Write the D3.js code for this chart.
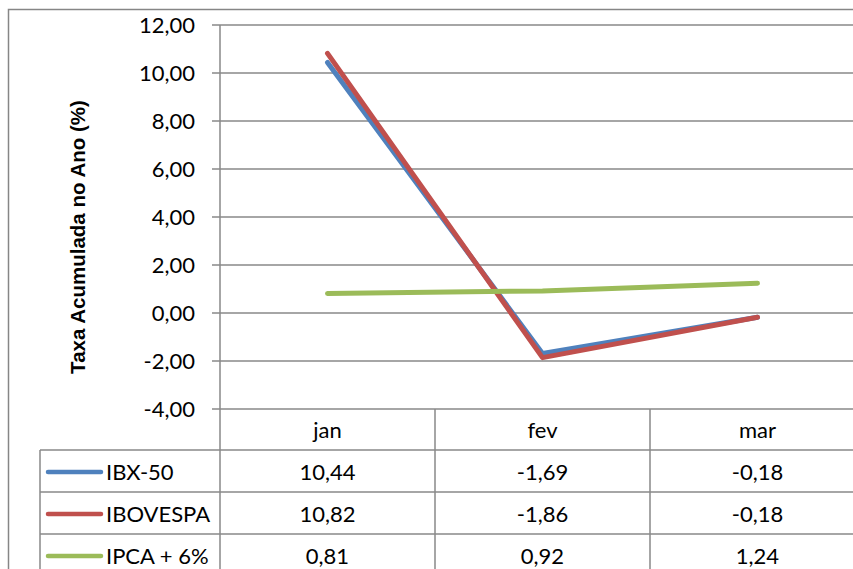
<!DOCTYPE html>
<html>
<head>
<meta charset="utf-8">
<script src="https://cdn.jsdelivr.net/npm/d3@7"></script>
<style>
body { margin: 0; background: #fff; }
text { font-family: Lato, "Open Sans", sans-serif; fill: #000; }
</style>
</head>
<body>
<div class="chart"></div>
<script>
const months = ["jan", "fev", "mar"];
const seriesNames = ["IBX-50", "IBOVESPA", "IPCA + 6%"];
const ibx50 = [10.44, -1.69, -0.18];
const ibovespa = [10.82, -1.86, -0.18];
const ipca6 = [0.81, 0.92, 1.24];
const yTicks = [-4, -2, 0, 2, 4, 6, 8, 10, 12];
const colors = ["#4F81BD", "#C0504D", "#9BBB59"];

const series = seriesNames.map((name, i) => ({
    name: name,
    values: [ibx50, ibovespa, ipca6][i],
    color: colors[i]
}));

const width = 853, height = 569;
const fs = "22px";
const fmt = v => v.toFixed(2).replace(".", ",");

const svg = d3.select(".chart").append("svg")
    .attr("width", width)
    .attr("height", height);

// outer chart border (cropped on right and bottom)
svg.append("path")
    .attr("d", "M8.5," + height + "V9.5H" + width)
    .attr("fill", "none")
    .attr("stroke", "#868686")
    .attr("stroke-width", 1.5);

const xScale = d3.scaleBand()
    .domain(months)
    .range([220, 865]);

const yScale = d3.scaleLinear()
    .domain([-4, 12])
    .range([409, 25]);

// gridlines
svg.append("g")
    .selectAll("line")
    .data(yTicks)
    .join("line")
    .attr("x1", 212)
    .attr("x2", width)
    .attr("y1", d => yScale(d))
    .attr("y2", d => yScale(d))
    .attr("stroke", "#888")
    .attr("stroke-width", 1.5);

const yAxis = d3.axisLeft(yScale)
    .tickValues(yTicks)
    .tickFormat(fmt)
    .tickSize(0)
    .tickPadding(25);

svg.append("g")
    .attr("class", "y-axis")
    .attr("transform", "translate(220,0)")
    .call(yAxis)
    .call(g => g.select(".domain").remove())
    .call(g => g.selectAll("text")
        .attr("font-family", "Lato, sans-serif")
        .attr("font-size", fs)
        .attr("fill", "#000"));

// axis title
svg.append("text")
    .attr("transform", "translate(78,237) rotate(-90)")
    .attr("text-anchor", "middle")
    .attr("dy", "0.35em")
    .style("font-family", "'Liberation Sans', Arial, sans-serif")
    .style("font-weight", "bold")
    .style("font-size", "20.5px")
    .text("Taxa Acumulada no Ano (%)");

// data table
const rowTop = 409, headerH = 41, rowH = 42;
const rowY = i => rowTop + headerH + i * rowH;
const table = svg.append("g").attr("stroke", "#888").attr("stroke-width", 1.5);

// vertical lines
[220, 435, 650].forEach((x, i) => {
    table.append("line")
        .attr("x1", x).attr("x2", x)
        .attr("y1", i === 0 ? 25 : rowTop).attr("y2", height);
});
table.append("line")
    .attr("x1", 40).attr("x2", 40)
    .attr("y1", rowY(0)).attr("y2", height);
// horizontal lines
[0, 1, 2].forEach(i => {
    table.append("line")
        .attr("x1", 40).attr("x2", width)
        .attr("y1", rowY(i)).attr("y2", rowY(i));
});

// header
svg.append("g")
    .selectAll("text")
    .data(months)
    .join("text")
    .attr("x", d => xScale(d) + xScale.bandwidth() / 2)
    .attr("y", rowTop + headerH / 2 + 1)
    .attr("dy", "0.35em")
    .attr("text-anchor", "middle")
    .attr("font-size", fs)
    .text(d => d);

// rows
const rows = svg.append("g")
    .selectAll("g")
    .data(series)
    .join("g")
    .attr("transform", (d, i) => "translate(0," + (rowY(i) + rowH / 2 + 1) + ")");

rows.append("line")
    .attr("x1", 48).attr("x2", 101)
    .attr("stroke", d => d.color)
    .attr("stroke-width", 4.5)
    .attr("stroke-linecap", "round");

rows.append("text")
    .attr("x", 106)
    .attr("dy", "0.35em")
    .attr("font-size", fs)
    .text(d => d.name);

rows.selectAll(".val")
    .data(d => d.values)
    .join("text")
    .attr("class", "val")
    .attr("x", (d, i) => xScale(months[i]) + xScale.bandwidth() / 2)
    .attr("dy", "0.35em")
    .attr("text-anchor", "middle")
    .attr("font-size", fs)
    .text(d => fmt(d));

// lines
const line = d3.line()
    .x((d, i) => xScale(months[i]) + xScale.bandwidth() / 2)
    .y(d => yScale(d));

svg.append("g")
    .selectAll("path")
    .data(series)
    .join("path")
    .attr("d", d => line(d.values))
    .attr("fill", "none")
    .attr("stroke", d => d.color)
    .attr("stroke-width", 5)
    .attr("stroke-linecap", "round")
    .attr("stroke-linejoin", "round");
</script>
</body>
</html>
